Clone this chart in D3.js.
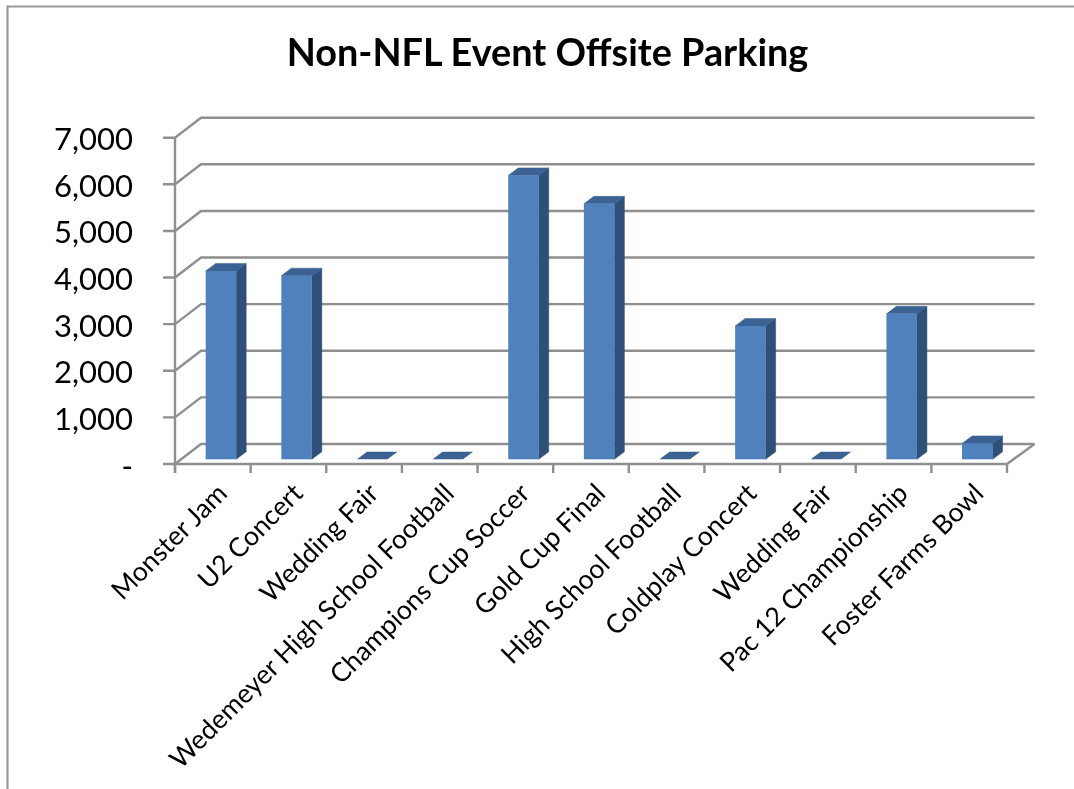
<!DOCTYPE html>
<html><head><meta charset="utf-8">
<script src="https://cdn.jsdelivr.net/npm/d3@7"></script>
<style>html,body{margin:0;padding:0;background:#fff}svg{display:block}text{font-family:Lato,"Open Sans",sans-serif;fill:#000}</style>
</head><body><svg id="c" width="1074" height="789"></svg>
<script>
const categories=["Monster Jam","U2 Concert","Wedding Fair","Wedemeyer High School Football","Champions Cup Soccer","Gold Cup Final","High School Football","Coldplay Concert","Wedding Fair","Pac 12 Championship","Foster Farms Bowl"];
const parking=[4040,3940,0,0,6090,5480,0,2860,0,3120,340];
const yTicks=[0,1000,2000,3000,4000,5000,6000,7000];
const yLabels=["-","1,000","2,000","3,000","4,000","5,000","6,000","7,000"];
const chartTitle="Non-NFL Event Offsite Parking";

const svg=d3.select("#c");
svg.append("defs").append("filter").attr("id","soft").attr("x",0).attr("y",0).attr("width","100%").attr("height","100%")
  .attr("filterUnits","userSpaceOnUse")
  .append("feGaussianBlur").attr("stdDeviation",0.55);
const root=svg.append("g").attr("filter","url(#soft)");
root.append("rect").attr("width",1074).attr("height",789).attr("fill","#fff");

const depth={x:26,y:20},barDepth={x:10,y:7.5},barInset={y:4.7};
const y=d3.scaleLinear().domain([0,7000]).range([464,137.7]);
const x=d3.scaleBand().domain(d3.range(categories.length)).range([175,1007]).paddingInner(0).paddingOuter(0);
const grey="#8f8f8f";

root.append("path").attr("d","M7.5,789V6.5H1074").attr("fill","none").attr("stroke","#999").attr("stroke-width",2.2);

root.append("text").attr("x",547.5).attr("y",66).attr("text-anchor","middle").attr("font-size",37.8).attr("font-weight",700).text(chartTitle);

const g=root.append("g").attr("fill","none").attr("stroke",grey).attr("stroke-width",2.4);
yTicks.forEach(t=>{
  const yy=y(t);
  g.append("path").attr("d",`M163,${yy}H175L${175+depth.x},${yy-depth.y}H1034.5`);
});
g.append("path").attr("d",`M175,${y(7000)}V${y(0)+9}`);
g.append("path").attr("d",`M175,${y(0)}H1007L1034.5,${y(0)-depth.y}`);
d3.range(categories.length+1).forEach(i=>{
  const xx=175+i*x.bandwidth();
  g.append("path").attr("d",`M${xx},${y(0)}V${y(0)+9}`);
});

root.append("g").selectAll("text").data(yTicks).join("text")
  .attr("x",133).attr("y",d=>y(d)+12.5).attr("text-anchor","end").attr("font-size",31).text((d,i)=>yLabels[i]);

const bars=root.append("g");
const barW=30.5, off=30.7;
parking.forEach((v,i)=>{
  const x0=x(i)+off, x1=x0+barW, b=y(0)-barInset.y, t=y(v)-barInset.y;
  const dx=barDepth.x, dy=barDepth.y;
  if(v>0){
    bars.append("path").attr("d",`M${x1},${b}V${t}l${dx},${-dy}V${b-dy}Z`).attr("fill","#2f5078").attr("stroke","#2f5078").attr("stroke-width",.5);
    bars.append("path").attr("d",`M${x0},${t}H${x1}l${dx},${-dy}H${x0+dx}Z`).attr("fill","#3a6293").attr("stroke","#3a6293").attr("stroke-width",.5);
    bars.append("rect").attr("x",x0).attr("y",t).attr("width",barW).attr("height",b-t).attr("fill","#4f81bd");
  } else {
    bars.append("path").attr("d",`M${x0},${t}H${x1}l${dx},${-dy}H${x0+dx}Z`).attr("fill","#3a6293");
  }
});

root.append("g").selectAll("text").data(categories).join("text")
  .attr("font-size",26.6).attr("text-anchor","end")
  .attr("transform",(d,i)=>`translate(${x(i)+x.bandwidth()/2+16},${495}) rotate(-45)`)
  .text(d=>d);
</script></body></html>
